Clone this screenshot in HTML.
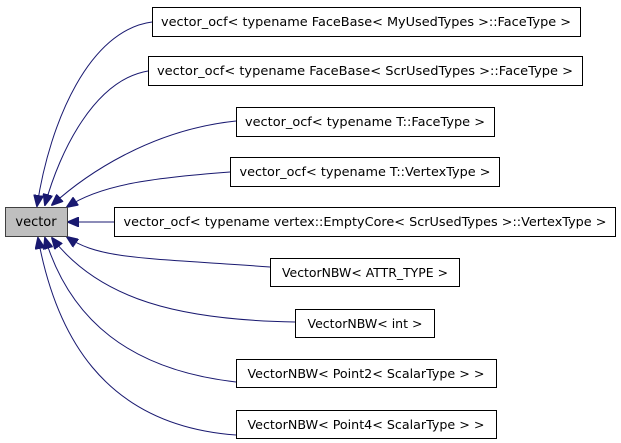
<!DOCTYPE html>
<html><head><style>html,body{margin:0;padding:0;background:#fff}svg{display:block}</style></head><body>
<svg width="621" height="443" viewBox="0 0 621 443" xmlns="http://www.w3.org/2000/svg" font-family="DejaVu Sans, Liberation Sans, sans-serif" font-size="12">
<defs><marker id="a" markerWidth="12" markerHeight="10" refX="11" refY="5" orient="auto" markerUnits="userSpaceOnUse"><polygon points="0,0 12,5 0,10" fill="#191970" stroke="#191970"/></marker></defs>
<g fill="none" stroke="#191970" stroke-width="1" marker-end="url(#a)">
<path d="M152,22 C90,30 50,120 37,206"/>
<path d="M148,71 C95,80 60,150 45,205"/>
<path d="M236,121 C150,130 85,175 52,205"/>
<path d="M230,172 C150,178 100,185 67,207"/>
<path d="M114,222 L68,222"/>
<path d="M270,267 C150,258 100,260 67,237"/>
<path d="M295,322 C180,320 100,300 52,238"/>
<path d="M236,382 C130,370 70,320 45,238"/>
<path d="M236,435 C100,425 55,330 38,238"/>
</g>
<g stroke="#000" fill="#fff">
<rect x="5.5" y="207.5" width="62" height="29" fill="#bfbfbf" stroke="#404040"/>
<rect x="152.5" y="7.5" width="428" height="29"/>
<rect x="148.5" y="56.5" width="434" height="29"/>
<rect x="236.5" y="107.5" width="258" height="29"/>
<rect x="230.5" y="157.5" width="269" height="29"/>
<rect x="114.5" y="207.5" width="501" height="29"/>
<rect x="270.5" y="258.5" width="189" height="28"/>
<rect x="295.5" y="309.5" width="139" height="28"/>
<rect x="236.5" y="359.5" width="260" height="28"/>
<rect x="236.5" y="410.5" width="260" height="28"/>
</g>
<g fill="#000" text-anchor="middle">
<text x="36" y="226" font-size="13">vector</text>
<text x="366" y="26" textLength="410" lengthAdjust="spacingAndGlyphs">vector_ocf&lt; typename FaceBase&lt; MyUsedTypes &gt;::FaceType &gt;</text>
<text x="365" y="75" textLength="416" lengthAdjust="spacingAndGlyphs">vector_ocf&lt; typename FaceBase&lt; ScrUsedTypes &gt;::FaceType &gt;</text>
<text x="365" y="126" textLength="240" lengthAdjust="spacingAndGlyphs">vector_ocf&lt; typename T::FaceType &gt;</text>
<text x="365" y="176" textLength="251" lengthAdjust="spacingAndGlyphs">vector_ocf&lt; typename T::VertexType &gt;</text>
<text x="365" y="226" textLength="483" lengthAdjust="spacingAndGlyphs">vector_ocf&lt; typename vertex::EmptyCore&lt; ScrUsedTypes &gt;::VertexType &gt;</text>
<text x="365" y="277" textLength="166" lengthAdjust="spacingAndGlyphs">VectorNBW&lt; ATTR_TYPE &gt;</text>
<text x="365" y="328" textLength="115" lengthAdjust="spacingAndGlyphs">VectorNBW&lt; int &gt;</text>
<text x="366" y="378" textLength="237" lengthAdjust="spacingAndGlyphs">VectorNBW&lt; Point2&lt; ScalarType &gt; &gt;</text>
<text x="366" y="429" textLength="237" lengthAdjust="spacingAndGlyphs">VectorNBW&lt; Point4&lt; ScalarType &gt; &gt;</text>
</g>
</svg>
</body></html>
